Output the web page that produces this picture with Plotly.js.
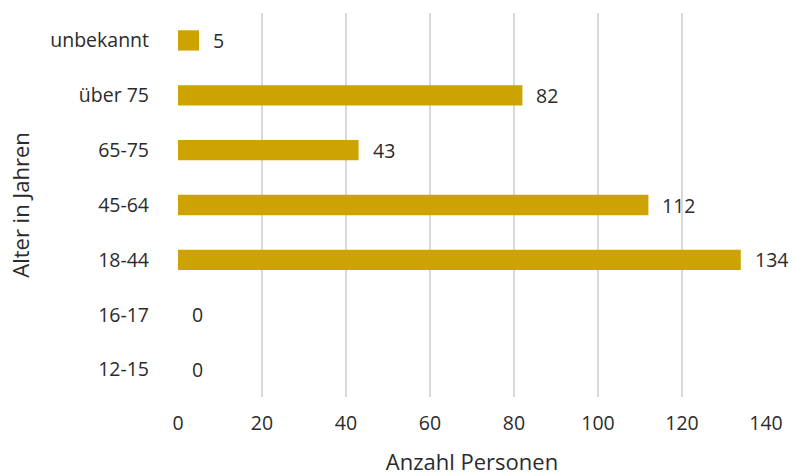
<!DOCTYPE html>
<html>
<head>
<meta charset="utf-8">
<script src="https://cdn.plot.ly/plotly-3.0.1.min.js"></script>
<style>html,body{margin:0;padding:0;background:#fff;}#chart{width:794px;height:476px;}</style>
</head>
<body>
<div id="chart"></div>
<script>
const categories = ["12-15", "16-17", "18-44", "45-64", "65-75", "über 75", "unbekannt"];
const values = [0, 0, 134, 112, 43, 82, 5];
const xTicks = [0, 20, 40, 60, 80, 100, 120, 140];

const font = "Open Sans, Noto Sans, sans-serif";
const textColor = "#2b2b2b";

const trace = {
  type: "bar",
  orientation: "h",
  x: values,
  y: categories,
  width: 0.37,
  marker: {color: "#CCA300"},
  hoverinfo: "none"
};

const annotations = categories.map((c, i) => ({
  x: values[i], y: c, xref: "x", yref: "y",
  text: String(values[i]), showarrow: false,
  xanchor: "left", yanchor: "middle", xshift: 12, yshift: 0,
  font: {family: font, size: 19.5, color: textColor}
}));

const layout = {
  width: 794, height: 476,
  margin: {l: 178, r: 28, t: 13, b: 79},
  paper_bgcolor: "#fff", plot_bgcolor: "#fff",
  showlegend: false,
  font: {family: font, size: 19.5, color: textColor},
  xaxis: {
    range: [0, 140], tickvals: xTicks, ticktext: xTicks.map(String),
    showgrid: true, gridcolor: "#d9d9d9", gridwidth: 2,
    zeroline: false, showline: false, ticks: "",
    ticklabelstandoff: 12,
    tickfont: {family: font, size: 19.5, color: textColor},
    title: {text: "Anzahl Personen", font: {family: font, size: 22, color: textColor}, standoff: 22}
  },
  yaxis: {
    type: "category", categoryorder: "array", categoryarray: categories,
    range: [-0.5, 6.5],
    showgrid: false, zeroline: false, showline: false, ticks: "",
    ticklabelstandoff: 28,
    tickfont: {family: font, size: 19.5, color: textColor},
    title: {text: "Alter in Jahren", font: {family: font, size: 22, color: textColor}, standoff: 14}
  },
  annotations: annotations
};

Plotly.newPlot("chart", [trace], layout, {displayModeBar: false, staticPlot: true});
</script>
</body>
</html>
